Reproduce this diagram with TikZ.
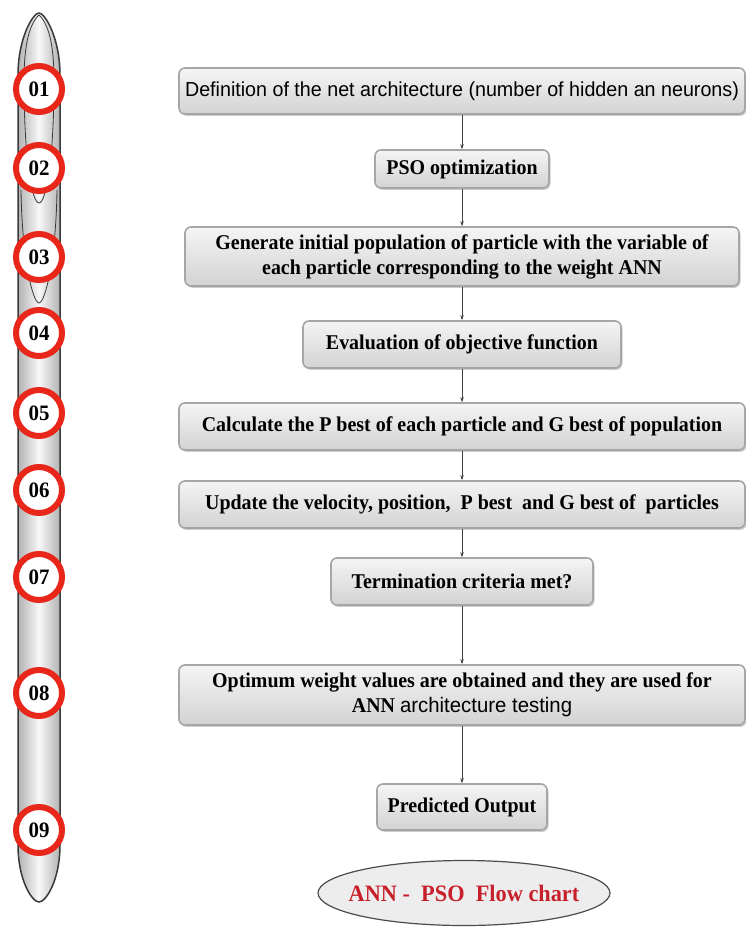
\documentclass[tikz,border=0pt]{standalone}
\usepackage{fontspec}
\setmainfont{Liberation Serif}
\setsansfont{Liberation Sans}
\newfontfamily\bxfont{Liberation Serif}[FakeStretch=0.95]
\newfontfamily\sxfont{Liberation Sans}[FakeStretch=0.97]
\usetikzlibrary{arrows.meta,shapes.geometric,shadows}
\definecolor{ringred}{HTML}{E8261A}
\definecolor{titlered}{HTML}{C8202A}
\begin{document}
\begin{tikzpicture}[x=1pt,y=-1pt,
 box/.style={rectangle, rounded corners=6pt, draw=gray!70, line width=1.6pt, top color=gray!8, bottom color=gray!35,
   drop shadow={shadow xshift=1.5pt,shadow yshift=-1.8pt,opacity=0.4}, align=center, inner sep=1pt,
   font=\fontsize{21}{25}\bxfont\bfseries},
 wide/.style={box, minimum width=566pt},
 numc/.style={circle, draw=ringred, line width=6pt, fill=white, minimum size=46pt, inner sep=0pt,
   font=\fontsize{22}{22}\bxfont\bfseries},
 arr/.style={draw=gray!50!black, line width=0.8pt, -{Stealth[length=5pt,width=3.5pt]}},
 capsule/.style={left color=gray!60, right color=gray!60, middle color=gray!6, draw=gray!45!black, line width=1.5pt},
 gloss/.style={draw=gray!45!black, line width=0.8pt},
 oval/.style={ellipse, draw=gray!60!black, line width=1.2pt, fill=gray!14, minimum width=292pt, minimum height=65pt,
   inner sep=0pt, label={[text=titlered, font=\fontsize{23.5}{24}\bxfont\bfseries]center:#1}}
]
\fill[white] (0,0) rectangle (745,933);
\useasboundingbox (0,0) rectangle (745,933);

% capsule on the left
\path[capsule] (18,75) .. controls (18,38) and (33,13) .. (39,13) .. controls (45,13) and (60,38) .. (60,75)
  -- (60,845) .. controls (60,880) and (46,902) .. (39,902) .. controls (32,902) and (18,880) .. (18,845) -- cycle;
\draw[gloss] (39,15) .. controls (28,25) and (24,50) .. (24,80) .. controls (24,160) and (32,203) .. (39,203)
  .. controls (46,203) and (54,160) .. (54,80) .. controls (54,50) and (50,25) .. (39,15);
\draw[gloss] (21,190) .. controls (22,260) and (33,303) .. (39,303) .. controls (45,303) and (56,260) .. (57,190);

% numbered rings
\node[numc] (n1) at (39,89) {01};
\node[numc] (n2) at (39,168) {02};
\node[numc] (n3) at (39,257) {03};
\node[numc] (n4) at (39,333) {04};
\node[numc] (n5) at (39,413) {05};
\node[numc] (n6) at (39,490) {06};
\node[numc] (n7) at (39,577) {07};
\node[numc] (n8) at (39,693) {08};
\node[numc] (n9) at (39,830) {09};

% flow boxes
\node[wide, minimum height=46pt, font=\fontsize{20.3}{24}\sxfont] (b1) at (462,91)
  {Definition of the net architecture (number of hidden an neurons)};
\node[box, minimum width=174pt, minimum height=38pt] (b2) at (462,169) {PSO optimization};
\node[box, minimum width=554pt, minimum height=59pt] (b3) at (462,256.5)
  {Generate initial population of particle with the variable of\\ each particle corresponding to the weight ANN};
\node[box, minimum width=318pt, minimum height=47pt] (b4) at (462,344.5) {Evaluation of objective function};
\node[wide, minimum height=47pt] (b5) at (462,426.5) {Calculate the P best of each particle and G best of population};
\node[wide, minimum height=47pt] (b6) at (462,504.5) {Update the velocity, position,\ \ P best\ \ and G best of\ \ particles};
\node[box, minimum width=262pt, minimum height=47pt] (b7) at (462,581.5) {Termination criteria met?};
\node[wide, minimum height=60pt] (b8) at (462,695)
  {Optimum weight values are obtained and they are used for\\ ANN {\sxfont\mdseries architecture testing}};
\node[box, minimum width=170pt, minimum height=46pt] (b9) at (462,807) {Predicted Output};

\node[oval={ANN -\ \ PSO\ \ Flow chart}] (title) at (464,893) {};

% connectors
\draw[arr] (b1) -- (b2);
\draw[arr] (b2) -- (b3);
\draw[arr] (b3) -- (b4);
\draw[arr] (b4) -- (b5);
\draw[arr] (b5) -- (b6);
\draw[arr] (b6) -- (b7);
\draw[arr] (b7) -- (b8);
\draw[arr] (b8) -- (b9);
\end{tikzpicture}
\end{document}
